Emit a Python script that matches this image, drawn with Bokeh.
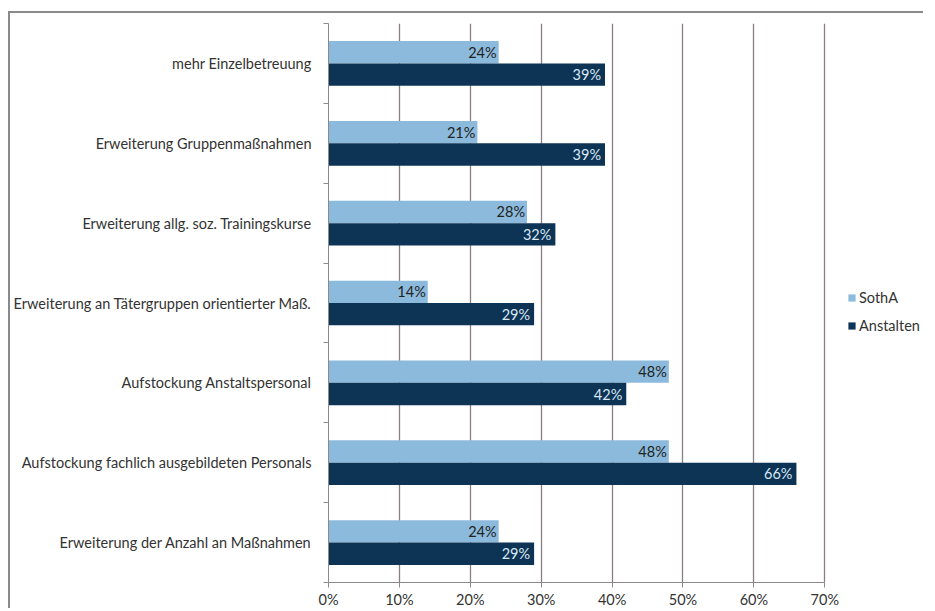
from bokeh.plotting import figure
from bokeh.models import (ColumnDataSource, Range1d, FixedTicker, LabelSet,
                          Legend, LegendItem, CustomJSTickFormatter)
from bokeh.core.properties import value
from bokeh.embed import file_html
from bokeh.resources import INLINE

categories = [
    "mehr Einzelbetreuung",
    "Erweiterung Gruppenmaßnahmen",
    "Erweiterung allg. soz. Trainingskurse",
    "Erweiterung an Tätergruppen orientierter Maß.",
    "Aufstockung Anstaltspersonal",
    "Aufstockung fachlich ausgebildeten Personals",
    "Erweiterung der Anzahl an Maßnahmen",
]
series_names = ["SothA", "Anstalten"]
sotha = [24, 21, 28, 14, 48, 48, 24]
anstalten = [39, 39, 32, 29, 42, 66, 29]
x_ticks = [0, 10, 20, 30, 40, 50, 60, 70]

FONT = "Lato"
FS = "14.5px"
C_SOTHA = "#8CBADC"
C_ANST = "#0D3355"

n = len(categories)
centers = [n - i - 0.5 for i in range(n)]

W, H = 915, 597
LEFT, RIGHT = 310, 5
AXIS_PX = 503  # pixel length of the 0..70 % axis
frame_w = W - LEFT - RIGHT
x_end = x_ticks[-1] * frame_w / AXIS_PX

src = ColumnDataSource(dict(
    cat=categories,
    center=centers,
    y_s=[c + 0.14 for c in centers],
    y_a=[c - 0.14 for c in centers],
    sotha=sotha,
    anst=anstalten,
    lab_s=[f"{v}%" for v in sotha],
    lab_a=[f"{v}%" for v in anstalten],
))

p = figure(width=W, height=H, output_backend="svg", toolbar_location=None,
           x_range=Range1d(0, x_end), y_range=Range1d(0, n),
           min_border_left=LEFT, min_border_top=10, min_border_right=RIGHT, min_border_bottom=10)
p.outline_line_color = None
p.background_fill_color = "white"
p.border_fill_color = "white"
p.styles = {"margin-left": "8px", "margin-top": "11px",
            "border-left": "2px solid #8a8a8a", "border-top": "2px solid #8a8a8a"}

r1 = p.hbar(y="y_s", right="sotha", left=0, height=0.28, source=src,
            fill_color=C_SOTHA, line_color=None)
r2 = p.hbar(y="y_a", right="anst", left=0, height=0.28, source=src,
            fill_color=C_ANST, line_color=None)

p.add_layout(LabelSet(x="sotha", y="y_s", text="lab_s", source=src, x_offset=-2,
                      text_align="right", text_baseline="middle",
                      text_font=value(FONT), text_font_size=FS, text_color="#222222"))
p.add_layout(LabelSet(x="anst", y="y_a", text="lab_a", source=src, x_offset=-4,
                      text_align="right", text_baseline="middle",
                      text_font=value(FONT), text_font_size=FS, text_color="#D8E8F4"))

# grid
p.ygrid.grid_line_color = None
p.xgrid.ticker = FixedTicker(ticks=x_ticks[1:])
p.xgrid.grid_line_color = "#8a7f7f"
p.xgrid.grid_line_width = 1.3

# x axis
xa = p.xaxis[0]
xa.ticker = FixedTicker(ticks=x_ticks)
xa.bounds = (x_ticks[0], x_ticks[-1])
xa.formatter = CustomJSTickFormatter(code="return tick + '%';")
xa.axis_line_color = "#8a8a8a"
xa.major_tick_line_color = "#8a8a8a"
xa.major_tick_out = 5
xa.major_tick_in = 0
xa.minor_tick_line_color = None
xa.major_label_text_font = FONT
xa.major_label_text_font_size = FS
xa.major_label_text_color = "#333333"
xa.major_label_standoff = 3

# y axis
ya = p.yaxis[0]
ya.ticker = FixedTicker(ticks=centers, minor_ticks=list(range(n + 1)))
ya.major_label_overrides = {c: cat for c, cat in zip(centers, categories)}
ya.axis_line_color = "#8a8a8a"
ya.major_tick_line_color = None
ya.minor_tick_line_color = "#8a8a8a"
ya.minor_tick_out = 5
ya.minor_tick_in = 0
ya.major_label_text_font = FONT
ya.major_label_text_font_size = FS
ya.major_label_text_color = "#333333"
ya.major_label_standoff = 11

legend = Legend(items=[LegendItem(label=series_names[0], renderers=[r1]),
                       LegendItem(label=series_names[1], renderers=[r2])],
                location=(519, 248), orientation="vertical")
legend.label_text_font = FONT
legend.label_text_font_size = FS
legend.label_text_color = "#333333"
legend.glyph_width = 9
legend.glyph_height = 9
legend.label_standoff = 3
legend.spacing = 11
legend.border_line_color = None
legend.background_fill_alpha = 0
legend.margin = 0
legend.padding = 4
p.add_layout(legend, "center")

open("out.html", "w").write(file_html(p, INLINE))
